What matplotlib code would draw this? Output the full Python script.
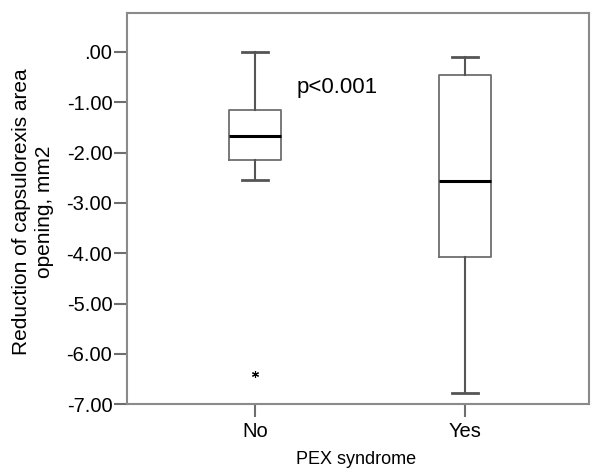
import matplotlib
matplotlib.use("Agg")
import matplotlib.pyplot as plt

plt.rcParams['font.family'] = ['Liberation Sans', 'DejaVu Sans']

# values (mm2)
groups = ['No', 'Yes']
whisker_hi = [0.00, -0.10]
q3 = [-1.15, -0.46]
medians = [-1.67, -2.56]
q1 = [-2.14, -4.07]
whisker_lo = [-2.54, -6.77]
outliers = [[-6.39], []]
yticks = [0, -1, -2, -3, -4, -5, -6, -7]
ytick_labels = ['.00', '-1.00', '-2.00', '-3.00', '-4.00', '-5.00', '-6.00', '-7.00']

stats = []
for i, name in enumerate(groups):
    stats.append({'label': name, 'med': medians[i], 'q1': q1[i], 'q3': q3[i],
                  'whislo': whisker_lo[i], 'whishi': whisker_hi[i], 'fliers': outliers[i]})

fig = plt.figure(figsize=(5.93, 4.70), dpi=100)
ax = fig.add_axes([0.214, 0.140, 0.779, 0.833])

ax.bxp(stats, positions=[1, 2], widths=0.25, capwidths=0.125,
       boxprops=dict(color='#6e6e6e', linewidth=1.3),
       whiskerprops=dict(color='#555555', linewidth=1.5),
       capprops=dict(color='#555555', linewidth=2.0),
       medianprops=dict(color='black', linewidth=2.2),
       flierprops=dict(marker=(6, 2, 0), markersize=5, markeredgecolor='black',
                       markeredgewidth=0.8, linestyle='none'))

ax.set_xlim(0.39, 2.59)
ax.set_ylim(-7.0, 0.78)
ax.set_yticks(yticks)
ax.set_yticklabels(ytick_labels)
ax.set_xticks([1, 2])
ax.set_xticklabels(groups)

for s in ax.spines.values():
    s.set_color('#8a8a8a')
    s.set_linewidth(1.5)
ax.tick_params(axis='both', colors='#6e6e6e', width=1.5, length=9.5, pad=1, labelsize=14.5,
               labelcolor='black')
ax.tick_params(axis='x', pad=3)

# p-value label, placed in pixels from the top-left like the reference
ax.text(297, 470 - 88, 'p<0.001', transform=None, fontsize=16, va='center', ha='left')
fig.text(356 / 593, 2 / 470, 'PEX syndrome', ha='center', va='bottom', fontsize=13)
fig.text(33 / 593, 1 - 212 / 470, 'Reduction of capsulorexis area\nopening, mm2', rotation=90,
         ha='center', va='center', fontsize=15, linespacing=1.3, multialignment='center')

fig.savefig('out.png', dpi=100)
